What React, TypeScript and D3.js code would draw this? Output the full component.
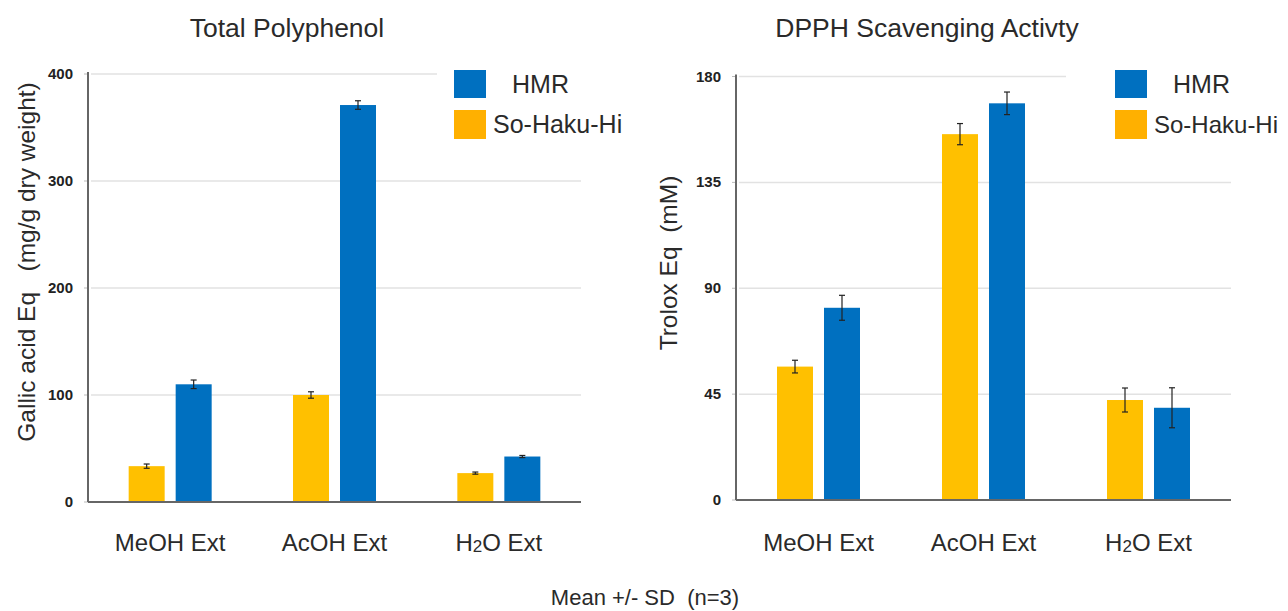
import React from "react";
import * as d3 from "d3";

const categories = ["MeOH Ext", "AcOH Ext", "H2O Ext"];
const seriesNames = ["So-Haku-Hi", "HMR"];
const colors = ["#FFC000", "#0070C0"];

const polyYellow = [33.5, 100, 27];
const polyYellowSD = [2, 3, 1];
const polyBlue = [110, 371, 42.5];
const polyBlueSD = [4, 4, 1];
const polyTicks = [0, 100, 200, 300, 400];

const dpphYellow = [56.7, 155.5, 42.5];
const dpphYellowSD = [2.7, 4.5, 5.1];
const dpphBlue = [81.7, 168.6, 39.2];
const dpphBlueSD = [5.3, 4.8, 8.5];
const dpphTicks = [0, 45, 90, 135, 180];

const FONT = "'Liberation Sans', Arial, Helvetica, sans-serif";
const TXT = "#2a2a2a";

type PanelProps = {
  x0: number; x1: number; yZero: number; yTop: number; yMax: number;
  ticks: number[]; values: number[][]; sds: number[][];
  title: string; titleX: number;
  legendBox: [number, number, number, number];
  legendX: number;
  yTitle: React.ReactNode;
};

function CatLabel({ label, x, y }: { label: string; x: number; y: number }) {
  if (label.startsWith("H2O")) {
    return (
      <text x={x} y={y} textAnchor="middle" fontSize={24} fill={TXT} fontFamily={FONT}>
        H<tspan fontSize={17} dy={1}>2</tspan><tspan dy={-1}>O Ext</tspan>
      </text>
    );
  }
  return (
    <text x={x} y={y} textAnchor="middle" fontSize={24} fill={TXT} fontFamily={FONT}>{label}</text>
  );
}

function Panel(p: PanelProps) {
  const x = d3.scaleBand<string>().domain(categories).range([p.x0, p.x1]).padding(0);
  const xs = d3.scaleBand<string>().domain(seriesNames).range([-41.5, 41.5]).paddingInner(0.234).paddingOuter(0);
  const y = d3.scaleLinear().domain([0, p.yMax]).range([p.yZero, p.yTop]);
  const [lbx, lby, lbw, lbh] = p.legendBox;
  return (
    <g>
      <text x={p.titleX} y={37} textAnchor="middle" fontSize={26.5} fill={TXT} fontFamily={FONT}>{p.title}</text>
      {p.ticks.filter((t) => t > 0).map((t) => (
        <line key={"g" + t} x1={p.x0 + 3} x2={p.x1} y1={y(t)} y2={y(t)} stroke="#e2e2e2" strokeWidth={1.5} />
      ))}
      <rect x={lbx} y={lby} width={lbw} height={lbh} fill="#fff" />
      {p.ticks.map((t) => (
        <g key={"t" + t}>
          <line x1={p.x0 - 4} x2={p.x0} y1={y(t)} y2={y(t)} stroke="#bbb" strokeWidth={1} />
          <text x={p.x0 - 15} y={y(t) + 5} textAnchor="end" fontSize={15} fontWeight="bold" fill="#222" fontFamily={FONT}>{t}</text>
        </g>
      ))}
      {categories.map((c, ci) => (
        <g key={c}>
          {seriesNames.map((s, si) => {
            const v = p.values[si][ci];
            const sd = p.sds[si][ci];
            const bx = (x(c) as number) + x.bandwidth() / 2 + (xs(s) as number);
            const cx = bx + xs.bandwidth() / 2;
            return (
              <g key={s}>
                <rect x={bx} y={y(v)} width={xs.bandwidth()} height={p.yZero - y(v)} fill={colors[si]} />
                <line x1={cx} x2={cx} y1={y(v + sd)} y2={y(v - sd)} stroke="#222" strokeWidth={1.2} />
                <line x1={cx - 3} x2={cx + 3} y1={y(v + sd)} y2={y(v + sd)} stroke="#222" strokeWidth={1.2} />
                <line x1={cx - 3} x2={cx + 3} y1={y(v - sd)} y2={y(v - sd)} stroke="#222" strokeWidth={1.2} />
              </g>
            );
          })}
          <CatLabel label={c} x={(x(c) as number) + x.bandwidth() / 2} y={551} />
        </g>
      ))}
      <line x1={p.x0} x2={p.x0} y1={p.yTop - 2} y2={p.yZero} stroke="#666" strokeWidth={2} />
      <line x1={p.x0} x2={p.x1} y1={p.yZero} y2={p.yZero} stroke="#666" strokeWidth={2} />
      <rect x={p.legendX} y={70} width={32} height={28} fill={colors[1]} />
      <rect x={p.legendX} y={110} width={32} height={29} fill="#FFB000" />
      <text x={p.legendX + 58} y={93} fontSize={25} fill={TXT} fontFamily={FONT}>HMR</text>
      <text x={p.legendX + 39} y={133} fontSize={p.legendX > 1000 ? 24 : 25} fill={TXT} fontFamily={FONT}>So-Haku-Hi</text>
      {p.yTitle}
    </g>
  );
}

export default function App() {
  return (
    <svg width={1288} height={611} style={{ position: "absolute", left: 0, top: 0, background: "#fff" }}>
      <rect width={1288} height={611} fill="#fff" />
      <Panel
        x0={88} x1={581} yZero={502} yTop={74} yMax={400}
        ticks={polyTicks}
        values={[polyYellow, polyBlue]} sds={[polyYellowSD, polyBlueSD]}
        title="Total Polyphenol" titleX={287}
        legendBox={[437, 58, 200, 108]} legendX={454}
        yTitle={
          <text transform="translate(35,262) rotate(-90)" textAnchor="middle" fontSize={24.5} fill={TXT} fontFamily={FONT}>
            Gallic acid Eq{"\u00a0\u00a0\u00a0"}(mg/g dry weight)
          </text>
        }
      />
      <Panel
        x0={736} x1={1231} yZero={500} yTop={76.5} yMax={180}
        ticks={dpphTicks}
        values={[dpphYellow, dpphBlue]} sds={[dpphYellowSD, dpphBlueSD]}
        title="DPPH Scavenging Activty" titleX={927}
        legendBox={[1066, 58, 222, 108]} legendX={1115}
        yTitle={
          <text transform="translate(677,263) rotate(-90)" textAnchor="middle" fontSize={24.5} fill={TXT} fontFamily={FONT}>
            Trolox Eq{"\u00a0\u00a0"}(mM)
          </text>
        }
      />
      <text x={645} y={605} textAnchor="middle" fontSize={22} fill={TXT} fontFamily={FONT}>Mean +/- SD{"\u00a0\u00a0"}(n=3)</text>
    </svg>
  );
}
